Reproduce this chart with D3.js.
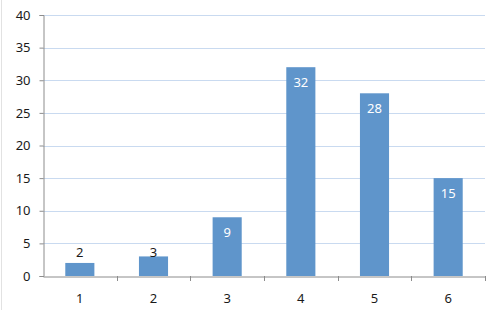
<!DOCTYPE html>
<html>
<head>
<meta charset="utf-8">
<script src="https://cdn.jsdelivr.net/npm/d3@7"></script>
<style>
  html, body { margin: 0; padding: 0; background: #fff; }
  svg { display: block; font-family: "Noto Sans", "Open Sans", sans-serif; }
</style>
</head>
<body>
<svg id="chart" width="492" height="310"></svg>
<script>
// datos del grafico
const categories = ['1', '2', '3', '4', '5', '6'];
const values = [2, 3, 9, 32, 28, 15];
const yTicks = [0, 5, 10, 15, 20, 25, 30, 35, 40];

const width = 492;
const height = 310;
const margin = { top: 15, right: 7, bottom: 34, left: 43 };

const svg = d3.select('#chart');

// borde izquierdo del area del grafico
svg.append('line')
  .attr('x1', 1.5).attr('x2', 1.5)
  .attr('y1', 0).attr('y2', height)
  .attr('stroke', '#e2e2e2');

const x = d3.scaleBand()
  .domain(categories)
  .range([margin.left, width - margin.right])
  .padding(0);

const y = d3.scaleLinear()
  .domain([0, 40])
  .range([height - margin.bottom, margin.top]);

const barWidth = x.bandwidth() * 0.395;

// lineas de cuadricula
svg.append('g')
  .selectAll('line')
  .data(yTicks.filter(d => d > 0))
  .join('line')
  .attr('x1', margin.left)
  .attr('x2', width - margin.right)
  .attr('y1', d => Math.round(y(d)) + 0.5)
  .attr('y2', d => Math.round(y(d)) + 0.5)
  .attr('stroke', '#c9daf0')
  .attr('stroke-width', 1);

// barras
svg.append('g')
  .selectAll('rect')
  .data(values)
  .join('rect')
  .attr('x', (d, i) => x(categories[i]) + x.bandwidth() / 2 - barWidth / 2)
  .attr('y', d => y(d))
  .attr('width', barWidth)
  .attr('height', d => y(0) - y(d))
  .attr('fill', '#5f95cb');

// eje Y
const yAxis = svg.append('g')
  .attr('transform', `translate(${margin.left + 0.5},0)`)
  .call(d3.axisLeft(y).tickValues(yTicks).tickSize(4).tickPadding(9));
yAxis.select('.domain').attr('stroke', '#8c8c8c');
yAxis.selectAll('.tick line').attr('stroke', '#8c8c8c');
yAxis.selectAll('.tick text')
  .attr('fill', '#1a1a1a')
  .attr('font-size', '13px')
  .attr('font-family', '"Noto Sans", "Open Sans", sans-serif');

// eje X
const xAxis = svg.append('g')
  .attr('transform', `translate(0,${y(0) + 0.5})`)
  .call(d3.axisBottom(x).tickSize(0).tickPadding(17));
xAxis.select('.domain').attr('stroke', '#8c8c8c');
xAxis.selectAll('.tick text')
  .attr('fill', '#1a1a1a')
  .attr('font-size', '13px')
  .attr('font-family', '"Noto Sans", "Open Sans", sans-serif');

// marcas entre categorias
svg.append('g')
  .selectAll('line')
  .data(categories)
  .join('line')
  .attr('x1', d => Math.round(x(d) + x.bandwidth()) + 0.5)
  .attr('x2', d => Math.round(x(d) + x.bandwidth()) + 0.5)
  .attr('y1', y(0))
  .attr('y2', y(0) + 5)
  .attr('stroke', '#8c8c8c');

// etiquetas de datos: dentro (blanco) si la barra es alta, fuera si no
svg.append('g')
  .selectAll('text')
  .data(values)
  .join('text')
  .attr('x', (d, i) => x(categories[i]) + x.bandwidth() / 2)
  .attr('y', d => d >= 5 ? y(d) + 20 : y(3) + 1)
  .attr('text-anchor', 'middle')
  .attr('font-size', '13px')
  .attr('fill', d => d >= 5 ? '#ffffff' : '#1a1a1a')
  .text(d => d);
</script>
</body>
</html>
